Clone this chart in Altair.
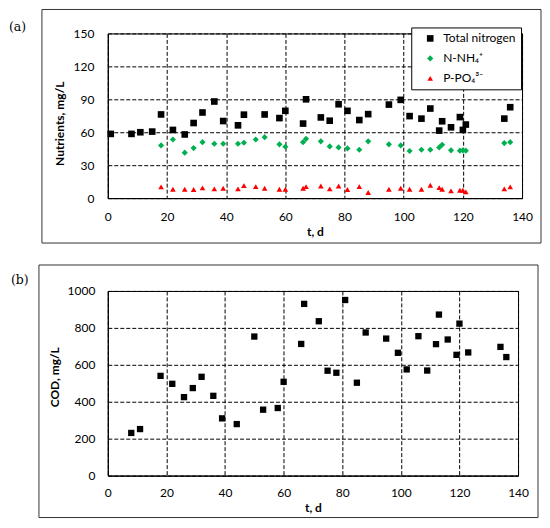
import altair as alt
import pandas as pd

# ---------------- data ----------------
series_names = ["Total nitrogen", "N-NH₄⁺", "P-PO₄³⁻"]

t_tn = [1, 8, 11, 15, 18, 22, 26, 29, 32, 36, 39, 44, 46, 53, 58, 60, 66, 67, 72, 75,
        78, 81, 85, 88, 95, 99, 102, 106, 109, 112, 113, 116, 119, 120, 121, 134, 136]
tn = [58.5, 58.5, 60, 60.6, 76.2, 62.1, 58, 68.4, 78, 88, 70.2, 66.3, 76, 76.2, 72.9,
      79.5, 67.9, 90, 73.5, 70.5, 85.5, 79.5, 71.1, 76.5, 85.2, 89.5, 74.7, 72.4, 81.6,
      61.5, 70, 64.5, 73.8, 62.1, 67, 72.4, 82.8]

t_ions = [18, 22, 26, 29, 32, 36, 39, 44, 46, 50, 53, 58, 60, 66, 67, 72, 75, 78, 81, 85,
          88, 95, 99, 102, 106, 109, 112, 113, 116, 119, 120, 121, 134, 136]
nh4 = [48, 53.4, 41.4, 45.6, 51, 49.5, 49.5, 49.5, 50.4, 53.4, 55.5, 49, 46.8, 51, 54,
       51.7, 47.1, 46.2, 45.3, 44.1, 51.7, 49, 48, 42.9, 44.1, 44.1, 46.2, 48.6, 43.5,
       43.2, 43.5, 43.2, 50.1, 51]
po4 = [10.2, 8.1, 8.1, 7.8, 9.3, 8.4, 9, 8.4, 11.4, 10.5, 9, 8.1, 8.1, 9, 10.5, 11.1,
       8.4, 11.1, 7.8, 10.5, 5.1, 8.1, 9, 8.1, 8.1, 11.7, 9.6, 8.1, 6.6, 7.2, 7.2, 5.7,
       8.4, 10.2]

t_cod = [8, 11, 18, 22, 26, 29, 32, 36, 39, 44, 50, 53, 58, 60, 66, 67, 72, 75, 78, 81,
         85, 88, 95, 99, 102, 106, 109, 112, 113, 116, 119, 120, 123, 134, 136]
cod = [231, 252, 540, 497, 425, 474, 535, 432, 310, 279, 753, 357, 366, 508, 713, 930,
       836, 568, 557, 951, 503, 775, 742, 665, 575, 755, 569, 712, 872, 737, 654, 823,
       667, 697, 642]

x_ticks = [0, 20, 40, 60, 80, 100, 120, 140]
ya_ticks = [0, 30, 60, 90, 120, 150]
yb_ticks = [0, 200, 400, 600, 800, 1000]

# ---------------- tables ----------------
rows = []
for t, v in zip(t_tn, tn):
    rows.append({"t": t, "v": v, "s": series_names[0]})
for t, v in zip(t_ions, nh4):
    rows.append({"t": t, "v": v, "s": series_names[1]})
for t, v in zip(t_ions, po4):
    rows.append({"t": t, "v": v, "s": series_names[2]})
df_a = pd.DataFrame(rows)
df_b = pd.DataFrame({"t": t_cod, "v": cod})
one = pd.DataFrame({"k": [0]})

FONT = "Lato"
DASH = [4, 2]

W_A, H_A = 415, 165
W_B, H_B = 411, 185


def x_axis(pad):
    return alt.Axis(values=x_ticks, grid=True, gridDash=DASH, gridColor="black",
                    gridWidth=1, ticks=False, labelPadding=pad, title="t, d",
                    titlePadding=4, labelFlush=False, format="d")


legend = alt.Legend(orient="none", legendX=304, legendY=-6, title=None,
                    fillColor="white", strokeColor="black", padding=5,
                    symbolSize=32, symbolOffset=8, labelOffset=7, rowPadding=8,
                    labelFontSize=12, labelFont=FONT, labelColor="black",
                    symbolStrokeWidth=0)

pts_a = alt.Chart(df_a).mark_point(filled=True, opacity=1, strokeWidth=0).encode(
    x=alt.X("t:Q", scale=alt.Scale(domain=[0, 140], nice=False), axis=x_axis(13)),
    y=alt.Y("v:Q", scale=alt.Scale(domain=[0, 150], nice=False),
            axis=alt.Axis(values=ya_ticks, grid=True, gridDash=DASH, gridColor="black",
                          gridWidth=1, ticks=False, labelPadding=14, format="d",
                          title="Nutrients, mg/L", titleX=-41, titleY=90)),
    color=alt.Color("s:N", scale=alt.Scale(domain=series_names,
                                           range=["black", "#00b050", "#ff0000"]),
                    legend=legend),
    shape=alt.Shape("s:N", scale=alt.Scale(domain=series_names,
                                           range=["square", "diamond", "triangle-up"]),
                    legend=legend),
    size=alt.Size("s:N", scale=alt.Scale(domain=series_names, range=[44, 32, 75]),
                  legend=None),
)

box_a = alt.Chart(one).mark_rect(fill=None, stroke="#333333", strokeWidth=1).encode(
    x=alt.value(-66), x2=alt.value(434), y=alt.value(-24), y2=alt.value(210))
lab_a = alt.Chart(one).mark_text(font="DejaVu Serif", fontSize=12.5, color="black",
                                 align="left", baseline="middle").encode(
    x=alt.value(-99), y=alt.value(-6), text=alt.value("(a)"))

panel_a = alt.layer(box_a, pts_a, lab_a).properties(width=W_A, height=H_A)

pts_b = alt.Chart(df_b).mark_point(filled=True, opacity=1, strokeWidth=0,
                                   shape="square", size=40, color="black").encode(
    x=alt.X("t:Q", scale=alt.Scale(domain=[0, 140], nice=False), axis=x_axis(12)),
    y=alt.Y("v:Q", scale=alt.Scale(domain=[0, 1000], nice=False),
            axis=alt.Axis(values=yb_ticks, grid=True, gridDash=DASH, gridColor="black",
                          gridWidth=1, ticks=False, labelPadding=13, format="d",
                          title="COD, mg/L", titleX=-46, titleY=86)),
)
box_b = alt.Chart(one).mark_rect(fill=None, stroke="#333333", strokeWidth=1).encode(
    x=alt.value(-69), x2=alt.value(431), y=alt.value(-26), y2=alt.value(227))
lab_b = alt.Chart(one).mark_text(font="DejaVu Serif", fontSize=12.5, color="black",
                                 align="left", baseline="middle").encode(
    x=alt.value(-97), y=alt.value(-11), text=alt.value("(b)"))

panel_b = alt.layer(box_b, pts_b, lab_b).properties(width=W_B, height=H_B)

chart = alt.vconcat(panel_a, panel_b, spacing=93, bounds="flush").properties(
    padding=0, background="white"
).configure_view(
    stroke="black", strokeWidth=1
).configure_axis(
    domainColor="black", domainWidth=1, labelFont=FONT, labelFontSize=12,
    labelColor="black", titleFont=FONT, titleFontSize=12, titleFontWeight="bold",
    titleColor="black"
)

chart.save("out.html", embed_options={"renderer": "svg", "actions": False})
